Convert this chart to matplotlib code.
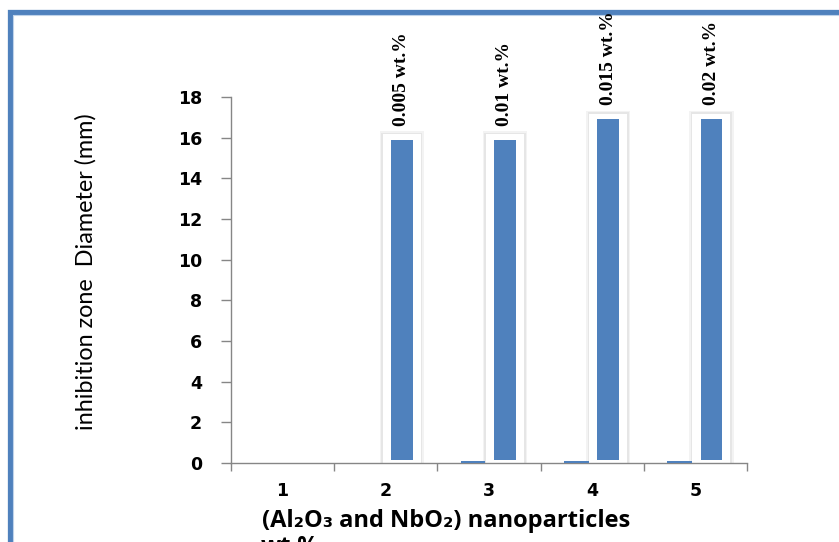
import matplotlib
matplotlib.use("Agg")
import matplotlib.pyplot as plt
import numpy as np
from matplotlib.patches import Rectangle

categories = ["1", "2", "3", "4", "5"]
series_a = [0.0, 0.0, 0.1, 0.1, 0.1]          # small first bar per group
series_b = [0.0, 15.9, 15.9, 16.9, 16.9]      # main blue bars
bar_labels = ["", "0.005 wt.%", "0.01 wt.%", "0.015 wt.%", "0.02 wt.%"]
y_ticks = [0, 2, 4, 6, 8, 10, 12, 14, 16, 18]

BLUE = "#4F81BD"
AXC = "#868686"

fig = plt.figure(figsize=(8.39, 5.42), dpi=100)
fig.patch.set_facecolor("white")

# outer blue frame (extends beyond right/bottom edge)
fig.add_artist(Rectangle((9.5 / 839, -0.05), 1.2, 1 - 12 / 542 + 0.05,
                         transform=fig.transFigure, fill=False,
                         edgecolor=BLUE, linewidth=3.8, zorder=0))
fig.add_artist(Rectangle((12.6 / 839, -0.05), 1.2, 1 - 14.6 / 542 + 0.05,
                         transform=fig.transFigure, fill=False,
                         edgecolor="#BFD3EA", linewidth=0.8, zorder=0))

ax = fig.add_axes([231 / 839, 1 - 463 / 542, (747 - 231) / 839, (463 - 97) / 542])
x = np.arange(len(categories))
off = 0.155

# soft halo behind main bars
for xi, v in zip(x, series_b):
    if v > 0:
        ax.bar(xi + off, v + 0.42, width=0.43, color="#F3F3F3", zorder=1, linewidth=0)
        ax.bar(xi + off, v + 0.34, width=0.40, color="#E6E6E6", zorder=1, linewidth=0)
        ax.bar(xi + off, v + 0.28, width=0.37, color="white", zorder=2, linewidth=0)

xa = [xi - off for xi, v in zip(x, series_a) if v > 0]
va = [v for v in series_a if v > 0]
ax.bar(xa, va, width=0.24, color=BLUE, zorder=3, linewidth=0)
xb = [xi + off for xi, v in zip(x, series_b) if v > 0]
vb = [v for v in series_b if v > 0]
ax.bar(xb, np.array(vb) - 0.15, bottom=0.15, width=0.21, color=BLUE,
       zorder=3, linewidth=0)

for xi, v, lab in zip(x, series_b, bar_labels):
    if lab:
        ax.annotate(lab, (xi + off, v), xytext=(0, 10), textcoords="offset points",
                    rotation=90, ha="center", va="bottom",
                    fontfamily="Liberation Serif", fontweight="bold", fontsize=14,
                    annotation_clip=False)

ax.set_xlim(-0.5, len(categories) - 0.5)
ax.set_ylim(0, 18)
ax.set_yticks(y_ticks)
ax.set_yticklabels([str(t) for t in y_ticks], fontfamily="DejaVu Sans",
                   fontweight="bold", fontsize=12.5)
ax.set_xticks(x)
ax.set_xticklabels(categories, fontfamily="DejaVu Sans", fontweight="bold", fontsize=12.5)
ax.set_xticks(np.arange(-0.5, len(categories)), minor=True)

for s in ["top", "right"]:
    ax.spines[s].set_visible(False)
for s in ["left", "bottom"]:
    ax.spines[s].set_color(AXC)
    ax.spines[s].set_linewidth(1.0)

ax.tick_params(axis="y", direction="out", length=7, color=AXC, width=1, pad=14)
ax.tick_params(axis="x", which="major", length=0, pad=14)
ax.tick_params(axis="x", which="minor", direction="out", length=6, color=AXC, width=1)

ax.set_ylabel("inhibition zone  Diameter (mm)", fontfamily="Lato", fontsize=16.8)
ax.yaxis.set_label_coords(-(231 - 97) / (747 - 231), 0.523)

fig.text(446 / 839, 1 - 521 / 542, "(Al\u2082O\u2083 and NbO\u2082) nanoparticles",
         ha="center", va="center", fontfamily=["Open Sans", "DejaVu Sans"],
         fontweight="bold", fontsize=17)
fig.text(290 / 839, 1 - 535 / 542, "wt.%", ha="center", va="top",
         fontfamily=["Open Sans", "DejaVu Sans"], fontweight="bold", fontsize=17)

fig.savefig("out.png", dpi=100)
